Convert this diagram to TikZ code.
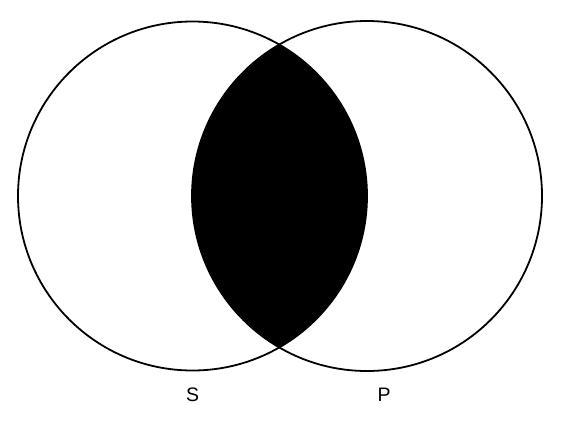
\documentclass[tikz,border=0pt]{standalone}
\usepackage{fontspec}
\setmainfont{Liberation Sans}
\usetikzlibrary{calc}

\begin{document}
\begin{tikzpicture}[x=1pt, y=-1pt, line width=1.8pt]
\useasboundingbox (0,0) rectangle (561,426);
\coordinate (centerS) at (192.5,196);
\coordinate (centerP) at (367,196);
\begin{scope}
\clip (centerS) circle [radius=174.5];
\fill [color=black] (centerP) circle [radius=175];
\end{scope}
\draw (centerS) circle [radius=174.5];
\draw (centerP) circle [radius=175];
\node (labelS) at (192.5,394.5) {\fontsize{19.5}{22}\selectfont S};
\node (labelP) at (384,394.5) {\fontsize{19.5}{22}\selectfont P};
\end{tikzpicture}
\end{document}
